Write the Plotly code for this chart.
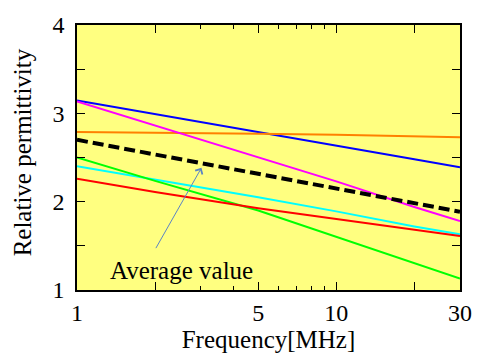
import numpy as np
import plotly.graph_objects as go

freq = [1, 2, 5, 10, 20, 30]

blue = [3.146, 2.99, 2.79, 2.635, 2.48, 2.39]
orange = [2.79, 2.783, 2.768, 2.757, 2.745, 2.73]
magenta = [3.135, 2.865, 2.50, 2.23, 1.94, 1.78]
average = [2.70, 2.534, 2.315, 2.149, 1.983, 1.886]
cyan = [2.40, 2.25, 2.05, 1.89, 1.72, 1.63]
green = [2.50, 2.235, 1.90, 1.60, 1.30, 1.13]
red = [2.26, 2.11, 1.925, 1.80, 1.68, 1.61]

x_tickvals = [1, 2, 5, 10, 20, 30]
x_ticktext = ["1", "", "5", "10", "", "30"]
x_minorvals = [3, 4, 6, 7, 8, 9]
y_tickvals = [1, 1.5, 2, 2.5, 3, 3.5, 4]
y_ticktext = ["1", "", "2", "", "3", "", "4"]

series = [
    (blue, "#0000FF"),
    (orange, "#FF8000"),
    (magenta, "#FF00FF"),
    (cyan, "#00FFFF"),
    (green, "#00FF00"),
    (red, "#FF0000"),
]

FONT = "Liberation Serif, Times New Roman, Times, serif"

fig = go.Figure()
for vals, col in series:
    fig.add_trace(go.Scatter(x=freq, y=vals, mode="lines",
                             line=dict(color=col, width=2), showlegend=False))
fig.add_trace(go.Scatter(x=freq, y=average, mode="lines",
                         line=dict(color="black", width=4, dash="11px,5px"),
                         showlegend=False))

fig.add_annotation(x=np.log10(3.02), y=2.383, ax=np.log10(2.0), ay=1.457,
                   xref="x", yref="y", axref="x", ayref="y",
                   showarrow=True, arrowhead=4, arrowsize=1.6, arrowwidth=1,
                   arrowcolor="#5B84C4", text="")
fig.add_annotation(x=np.log10(2.52), y=1.225, xref="x", yref="y",
                   text="Average value", showarrow=False,
                   font=dict(family=FONT, size=25, color="black"))
fig.add_annotation(x=-0.142, y=0.518, xref="paper", yref="paper",
                   text="Relative permittivity", textangle=-90, showarrow=False,
                   xanchor="center", yanchor="middle",
                   font=dict(family=FONT, size=25, color="black"))

axis_common = dict(showline=True, linecolor="black", linewidth=1.5, mirror="allticks",
                   ticks="inside", tickcolor="black", tickwidth=1,
                   showgrid=False, zeroline=False,
                   tickfont=dict(family=FONT, size=24, color="black"))

fig.update_xaxes(type="log", range=[0, np.log10(30)], tickmode="array",
                 tickvals=x_tickvals, ticktext=x_ticktext, ticklen=8,
                 minor=dict(tickmode="array", tickvals=x_minorvals, ticklen=4,
                            ticks="inside", tickcolor="black", showgrid=False),
                 title=dict(text="Frequency[MHz]", font=dict(family=FONT, size=25, color="black"),
                            standoff=6),
                 **axis_common)
fig.update_yaxes(range=[1, 4], tickmode="array", tickvals=y_tickvals, ticktext=y_ticktext,
                 ticklen=8, ticklabelstandoff=6,
                 **axis_common)

fig.update_layout(width=484, height=361, margin=dict(l=77, r=13, t=18, b=61),
                  plot_bgcolor="#FFFF80", paper_bgcolor="white",
                  font=dict(family=FONT, color="black"))

fig.write_html("out.html")
